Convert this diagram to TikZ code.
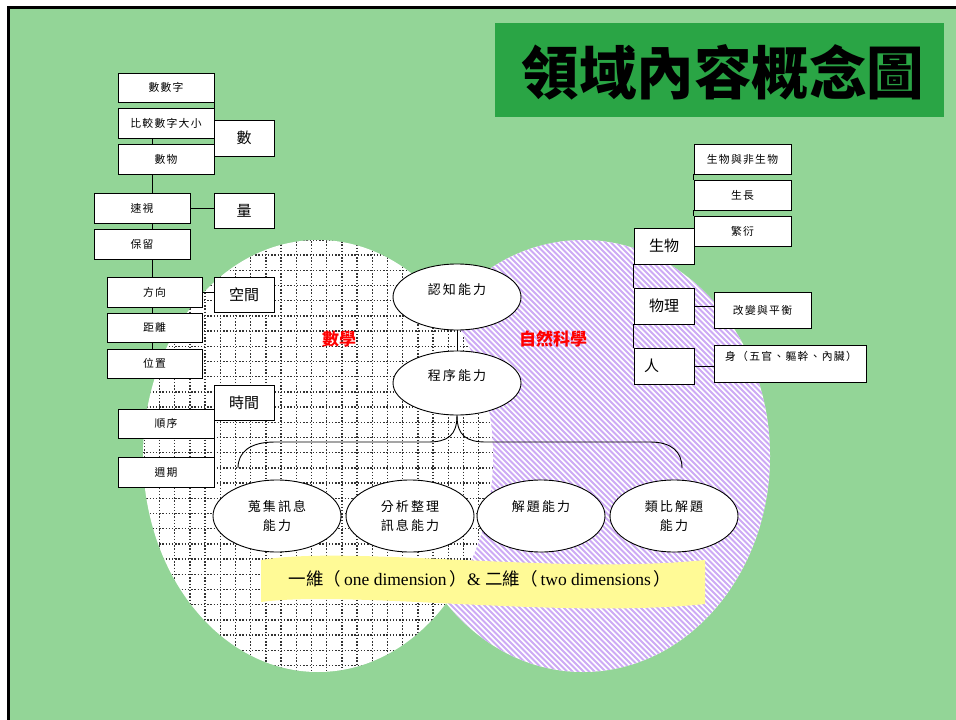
\documentclass[tikz,border=0pt]{standalone}
\usepackage{fontspec}
\setmainfont{Liberation Serif}
\newfontfamily\cjk{Noto Sans CJK TC}
\newfontfamily\cjks{Noto Sans CJK TC}[LetterSpace=12]
\newfontfamily\cjko{Noto Sans CJK TC}[LetterSpace=16]
\usetikzlibrary{shapes.geometric}
\definecolor{bggreen}{RGB}{147,213,151}
\definecolor{titlegreen}{RGB}{42,165,69}
\definecolor{hatchc}{RGB}{205,170,245}
\definecolor{bandy}{RGB}{255,250,150}
\tikzset{
  sbox/.style={draw, fill=white, line width=0.8pt, inner sep=0pt, font=\cjks\fontsize{10.8}{13}\selectfont},
  bbox/.style={draw, fill=white, line width=0.8pt, inner sep=0pt, minimum width=60pt, font=\cjk\fontsize{15}{17}\selectfont},
  oval/.style={draw, fill=white, ellipse, line width=0.9pt, inner sep=0pt, minimum width=128pt, align=center, font=\cjko\fontsize{13}{19}\selectfont},
  conn/.style={line width=0.9pt},
  gridl/.style={line width=1.4pt, black!80, dash pattern=on 1.3pt off 1.9pt},
  hatchl/.style={line width=1.9pt, hatchc},
  redlab/.style={text=red, font=\cjk\bfseries\fontsize{17}{19}\selectfont}
}
\begin{document}
\begin{tikzpicture}[x=1pt,y=-1pt]
\useasboundingbox (0,0) rectangle (956,720);
% background and frame
\fill[white] (0,0) rectangle (956,720);
\fill[bggreen] (8,8) rectangle (956,720);
\draw[line width=2.5pt] (8.5,720) -- (8.5,7.5) -- (956,7.5);
% title
\fill[titlegreen] (495,23) rectangle (944,117);
\node[font=\cjk\bfseries\fontsize{57.5}{60}\selectfont] (title) at (723,72) {領域內容概念圖};
% hatched ellipse (science)
\begin{scope}
  \clip (583,456) ellipse [x radius=187, y radius=216];
  \fill[white] (380,230) rectangle (780,680);
  \foreach \i in {0,...,150} { \draw[hatchl] ({-40+5.5*\i},235) -- ++(445,445); }
\end{scope}
% grid ellipse (math)
\begin{scope}
  \clip (318,456) ellipse [x radius=175, y radius=216];
  \fill[white] (130,230) rectangle (500,680);
  \foreach \i in {0,...,23} { \draw[gridl] ({144.2+15.2*\i},238) -- ({144.2+15.2*\i},675); }
  \foreach \j in {0,...,28} { \draw[gridl] (140,{239.8+15.2*\j}) -- (500,{239.8+15.2*\j}); }
\end{scope}
% yellow band
\fill[bandy] (261,560) .. controls (350,545) and (560,575) .. (705,560) -- (705,604) .. controls (560,619) and (350,590) .. (261,602) -- cycle;
\node[font=\fontsize{17.5}{19}\selectfont] (band) at (480,579) {{\cjk 一維（}\,one dimension\,{\cjk ）}\& {\cjk 二維（}\,two dimensions\,{\cjk ）}};
% red labels
\node[redlab] (math) at (339,339) {數學};
\node[redlab] (sci) at (553,339) {自然科學};
% left boxes
\coordinate (tr) at (152,0);
\node[sbox, minimum width=96pt, minimum height=29pt] (ssz) at (166,87.5) {數數字};
\node[sbox, minimum width=96pt, minimum height=30pt] (bj) at (166,123) {比較數字大小};
\node[bbox, minimum height=36pt] (shu) at (244,138) {數};
\node[sbox, minimum width=96pt, minimum height=30pt] (sw) at (166,159) {數物};
\node[sbox, minimum width=96pt, minimum height=30pt] (ss) at (142,208) {速視};
\node[bbox, minimum height=35pt] (liang) at (244,210.5) {量};
\node[sbox, minimum width=96pt, minimum height=30pt] (bl) at (142,244) {保留};
\node[sbox, minimum width=95pt, minimum height=30pt] (fx) at (154.5,292) {方向};
\node[bbox, minimum height=35pt] (kj) at (244,294.5) {空間};
\node[sbox, minimum width=95pt, minimum height=29pt] (jl) at (154.5,327.5) {距離};
\node[sbox, minimum width=95pt, minimum height=29pt] (wz) at (154.5,363.5) {位置};
\node[bbox, minimum height=35pt] (sj) at (244,402.5) {時間};
\node[sbox, minimum width=96pt, minimum height=29pt] (sx) at (166,423.5) {順序};
\node[sbox, minimum width=96pt, minimum height=30pt] (zq) at (166,472) {週期};
\draw[conn] (ssz.south east) -- (bj.north east);
\draw[conn] (bj.south -| tr) -- (sw.north -| tr);
\draw[conn] (sw.south -| tr) -- (ss.north -| tr);
\draw[conn] (ss.east) -- (ss.east -| liang.west);
\draw[conn] (ss.south -| tr) -- (bl.north -| tr);
\draw[conn] (bl.south -| tr) -- (fx.north -| tr);
\draw[conn] (fx.east) -- (fx.east -| kj.west);
\draw[conn] (fx.south -| tr) -- (jl.north -| tr);
\draw[conn] (jl.south -| tr) -- (wz.north -| tr);
\draw[conn] (sx.south east) -- (zq.north east);
% right boxes
\node[sbox, minimum width=97pt, minimum height=30pt] (swf) at (742.5,159) {生物與非生物};
\node[sbox, minimum width=97pt, minimum height=30pt] (sz) at (742.5,195) {生長};
\node[sbox, minimum width=97pt, minimum height=30pt] (fy) at (742.5,231) {繁衍};
\node[bbox, minimum height=36pt] (bio) at (664,246) {生物};
\node[bbox, minimum height=36pt] (wl) at (664,306) {物理};
\node[bbox, minimum height=36pt, text width=40pt] (ren) at (664,366) {人};
\node[sbox, minimum width=97pt, minimum height=36pt] (gb) at (762.5,310) {改變與平衡};
\node[sbox, minimum width=152pt, minimum height=37pt] (shen) at (790,363.5) {};
\node[font=\cjks\fontsize{10.8}{13}\selectfont] (shent) at (791,356) {身（五官、軀幹、內臟）};
\draw[conn] (swf.south west) -- (sz.north west);
\draw[conn] (sz.south west) -- (fy.north west);
\draw[conn] (bio.south west) -- (wl.north west);
\draw[conn] (wl.south west) -- (ren.north west);
\draw[conn] (wl.east) -- (wl.east -| gb.west);
\draw[conn] (ren.east) -- (ren.east -| shen.west);
% center ellipses
\node[oval, minimum height=66pt, text height=12pt, text depth=18pt] (rz) at (457,297) {認知能力};
\node[oval, minimum height=64pt, text height=12pt, text depth=18pt] (cx) at (457,383) {程序能力};
\draw[conn] (rz.south) -- (cx.north);
\coordinate (bl1) at (238,468);
\coordinate (br1) at (682,468);
\draw[conn] (cx.south) .. controls (457,436) and (447,442) .. (428,442) -- (275,442) .. controls (250,442) and (238,452) .. (bl1);
\draw[conn] (cx.south) .. controls (457,436) and (467,442) .. (486,442) -- (650,442) .. controls (672,442) and (682,452) .. (br1);
\node[oval, minimum height=72pt] (sj1) at (277,516) {蒐集訊息\\能力};
\node[oval, minimum height=72pt] (fx1) at (410,516) {分析整理\\訊息能力};
\node[oval, minimum height=72pt] (jt) at (541,516) {解題能力\\\phantom{能力}};
\node[oval, minimum height=72pt] (lb) at (674,516) {類比解題\\能力};
\end{tikzpicture}
\end{document}
